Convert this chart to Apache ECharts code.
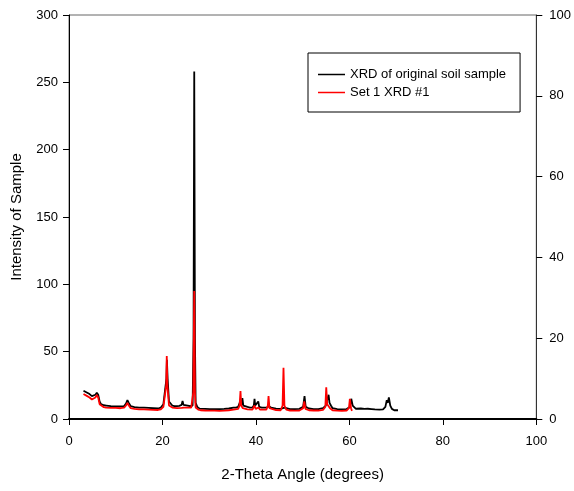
<!DOCTYPE html>
<html>
<head>
<meta charset="utf-8">
<script src="https://cdn.jsdelivr.net/npm/echarts@6/dist/echarts.min.js"></script>
<style>html,body{margin:0;padding:0;background:#fff}#c{width:574px;height:491px}</style>
</head>
<body>
<div id="c"></div>
<script>
var seriesNames = ['XRD of original soil sample', 'Set 1 XRD #1'];
var xTicks = [0, 20, 40, 60, 80, 100];
var leftTicks = [0, 50, 100, 150, 200, 250, 300];
var rightTicks = [0, 20, 40, 60, 80, 100];

var originalSoil = [
[3.1,21],[3.5,20],[3.9,19.5],[4.4,18.5],[4.9,17],[5.2,16],[5.65,18],[5.95,19.5],[6.25,18],[6.55,13],[6.85,11],[7.45,10.2],[7.95,10],[8.95,9.6],[10,9.4],[11,9.3],[11.8,9.6],[12.2,11.5],[12.5,14],[12.8,12],[13.2,9.5],[14,8.8],[15,8.5],[16.05,8.4],[17.05,8.2],[18.05,8],[19.05,7.8],[19.65,8.5],[20.2,11],[20.6,11],[20.85,30],[20.95,44],[21.1,30],[21.4,13],[21.7,12.5],[22.1,10],[22.6,9.6],[23.1,9.5],[23.6,9.8],[24.1,10.5],[24.3,13.4],[24.5,10.5],[24.9,10.4],[25.4,10],[25.9,9.5],[26.45,10],[26.65,60],[26.8,258],[26.95,60],[27.1,12],[27.45,9],[27.95,7.7],[29.15,7.5],[30.15,7.3],[31.15,7.4],[32.2,7.3],[33.2,7.5],[34.2,7.8],[35.2,8.5],[35.7,8.5],[36.2,9],[36.6,10],[36.75,14],[36.9,10.5],[37.1,15.5],[37.3,10],[37.7,9.5],[38.2,9],[38.7,8.5],[39.25,8.5],[39.55,10],[39.7,15],[39.85,10],[40.25,9],[40.5,13],[40.7,9],[41.25,8.5],[42.25,8.4],[42.75,9.5],[43.25,8.5],[44.3,7.7],[45.3,7.5],[46.1,8.5],[46.5,7.6],[47.3,7.4],[48.3,7.4],[49.3,7.5],[50.1,9],[50.4,17],[50.65,9],[51.35,7.8],[52.35,7.4],[53.35,7.4],[54.35,8],[54.95,10],[55.35,11],[55.55,18],[55.75,12],[56.05,10],[56.4,8],[57.4,7.3],[58.4,7.2],[59.4,7.4],[60.1,9],[60.4,15],[60.7,10],[61.4,7.6],[62.45,7.8],[62.85,9],[63.25,7.5],[63.95,7.6],[64.35,9],[64.75,7.4],[65.45,7.2],[66.45,7],[67.2,7.2],[67.7,9],[68.0,14],[68.2,12],[68.45,16],[68.75,10],[69.1,7.5],[69.6,6.5],[70.4,6.5]
];

var set1Xrd1 = [
[3.1,18.6],[3.5,18],[3.9,17],[4.4,16],[4.9,14.5],[5.2,13.6],[5.65,16],[5.95,17.8],[6.25,16],[6.55,11],[6.85,9.6],[7.45,8.8],[7.95,8.5],[8.95,8.3],[10,8.2],[11,8],[11.8,8.4],[12.2,10],[12.5,12],[12.8,10],[13.2,8],[14,7.5],[15,7.2],[16.05,7.1],[17.05,7],[18.05,6.8],[19.05,6.7],[19.65,7.2],[20.2,9],[20.6,9.5],[20.8,25],[20.92,46.8],[21.05,25],[21.4,10],[21.7,9.5],[22.1,8.5],[23.1,8],[24.1,8.3],[24.3,9.5],[24.6,8.5],[25.1,8.4],[26.15,8.5],[26.6,20],[26.8,95],[26.95,20],[27.1,8.5],[27.65,7],[28.15,6.5],[29.15,6.3],[30.15,6.2],[31.15,6.2],[32.2,6.1],[33.2,6.2],[34.2,6.5],[35.2,7],[36.2,7.5],[36.5,10],[36.7,20.8],[36.85,10],[37.2,8],[38.2,7.2],[39.25,7],[39.7,10],[39.95,7.5],[40.55,8.5],[40.85,7],[41.25,6.8],[42.25,7],[42.55,10],[42.7,17],[42.9,8],[43.25,7],[44.3,6.6],[45.3,6.5],[45.7,10],[45.9,38],[46.1,10],[46.5,7],[47.3,6.3],[48.3,6.2],[49.3,6.3],[50.1,8],[50.35,13],[50.6,7.5],[51.35,6.5],[52.35,6.3],[53.35,6.3],[54.35,6.8],[54.85,9],[55.05,23.5],[55.25,11],[55.55,12],[55.85,8],[56.4,6.5],[57.4,6.2],[58.4,6.1],[59.4,6.3],[59.9,8],[60.1,15],[60.35,8],[60.55,6]
];

var chart = echarts.init(document.getElementById('c'), null, {renderer: 'canvas'});
var font = 'Liberation Sans, Arial, sans-serif';
function axisBase(min, max, ticks) {
  return {
    min: min, max: max, interval: ticks[1] - ticks[0],
    axisLine: {show: true, onZero: false, lineStyle: {color: '#000', width: 1}},
    axisTick: {show: true, inside: false, length: 6, lineStyle: {color: '#000'}},
    axisLabel: {color: '#000', fontSize: 13, fontFamily: font},
    splitLine: {show: false}
  };
}
var xAxis = axisBase(xTicks[0], xTicks[xTicks.length - 1], xTicks);
xAxis.type = 'value';
xAxis.name = '2-Theta Angle (degrees)';
xAxis.nameLocation = 'middle';
xAxis.nameGap = 48;
xAxis.nameTextStyle = {color: '#000', fontSize: 15, fontFamily: font};
xAxis.axisLine.lineStyle.width = 2;
xAxis.axisLabel.margin = 16;

var yLeft = axisBase(leftTicks[0], leftTicks[leftTicks.length - 1], leftTicks);
yLeft.type = 'value';
yLeft.position = 'left';
yLeft.name = 'Intensity of Sample';
yLeft.nameLocation = 'middle';
yLeft.nameGap = 45;
yLeft.nameTextStyle = {color: '#000', fontSize: 15, fontFamily: font};
yLeft.axisLabel.margin = 11;

var yRight = axisBase(rightTicks[0], rightTicks[rightTicks.length - 1], rightTicks);
yRight.type = 'value';
yRight.position = 'right';
yRight.axisLabel.margin = 13;
yRight.axisLine.lineStyle.color = '#333';

chart.setOption({
  animation: false,
  backgroundColor: '#fff',
  grid: {left: 69, right: 37, top: 15, bottom: 72, show: true, borderColor: '#666', borderWidth: 1},
  legend: {
    orient: 'vertical', left: 308, top: 53,
    padding: [15, 14, 13, 10],
    itemGap: 5, itemWidth: 27, itemHeight: 1.5,
    backgroundColor: '#fff', borderColor: '#000', borderWidth: 1,
    textStyle: {color: '#000', fontSize: 13, fontFamily: font},
    data: [{name: seriesNames[0], icon: 'rect'}, {name: seriesNames[1], icon: 'rect'}]
  },
  xAxis: xAxis,
  yAxis: [yLeft, yRight],
  series: [
    {name: seriesNames[0], type: 'line', yAxisIndex: 0, data: originalSoil, showSymbol: false, symbol: 'none',
     lineStyle: {color: '#000', width: 1.8}, itemStyle: {color: '#000'}},
    {name: seriesNames[1], type: 'line', yAxisIndex: 0, data: set1Xrd1, showSymbol: false, symbol: 'none',
     lineStyle: {color: '#ff0000', width: 1.8}, itemStyle: {color: '#ff0000'}}
  ]
});
</script>
</body>
</html>
